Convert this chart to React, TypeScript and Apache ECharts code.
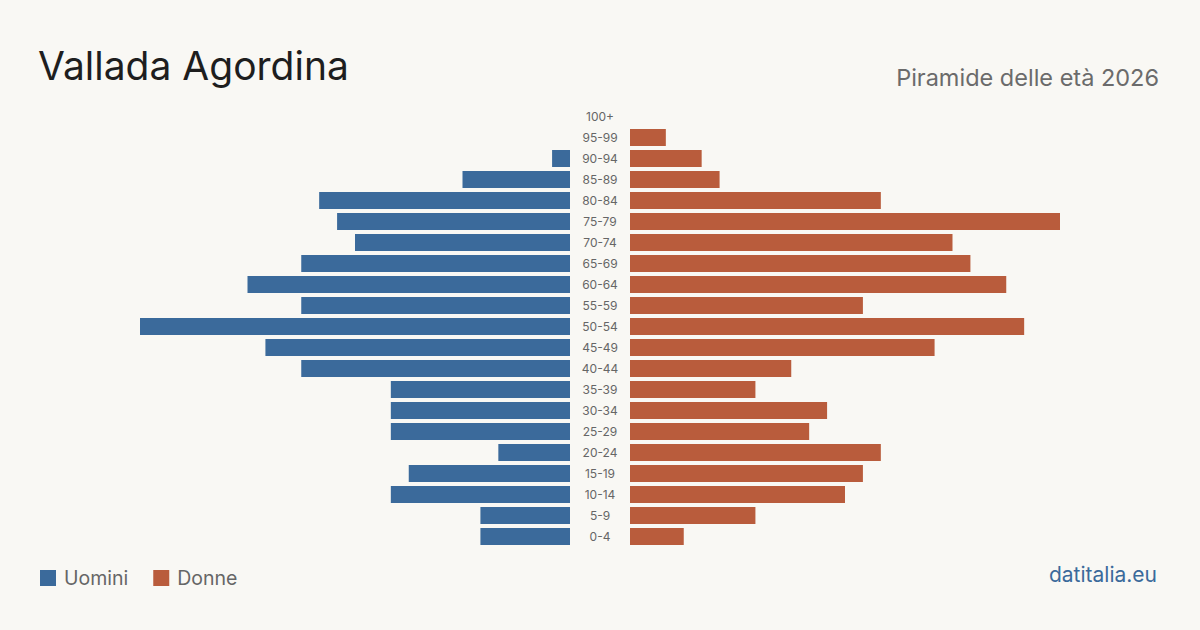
import React, { useEffect, useRef } from "react";
import * as echarts from "echarts";

const categories = ["0-4","5-9","10-14","15-19","20-24","25-29","30-34","35-39","40-44","45-49","50-54","55-59","60-64","65-69","70-74","75-79","80-84","85-89","90-94","95-99","100+"];
const uomini = [5,5,10,9,4,10,10,10,15,17,24,15,18,15,12,13,14,6,1,0,0];
const donne = [3,7,12,13,14,10,11,7,9,17,22,13,21,19,18,24,14,5,4,2,0];
const axisMax = 24;

const BLUE = "#3b6a9b";
const ORANGE = "#b95c3c";
const FONT = "Inter, 'Noto Sans', sans-serif";

export default function App() {
  const ref = useRef<HTMLDivElement>(null);
  useEffect(() => {
    const chart = echarts.init(ref.current!, null, { renderer: "svg" });
    chart.setOption({
      animation: false,
      backgroundColor: "#f9f8f4",
      textStyle: { fontFamily: FONT },
      title: [
        { text: "Vallada Agordina", left: 33, top: 41, textStyle: { fontFamily: FONT, fontSize: 39, fontWeight: "normal", color: "#1e1e1e" } },
        { text: "Piramide delle età 2026", right: 36, top: 60, textStyle: { fontFamily: FONT, fontSize: 23.5, fontWeight: "normal", color: "#6b6b6b" } },
        { text: "datitalia.eu", right: 38, top: 559, textStyle: { fontFamily: FONT, fontSize: 21, fontWeight: "normal", color: "#3b6a9b" } },
      ],
      legend: {
        left: 35, top: 563, icon: "rect", itemWidth: 16, itemHeight: 16, itemGap: 25,
        textStyle: { fontFamily: FONT, fontSize: 19.5, color: "#666", padding: [0, 0, 0, 3] },
        data: ["Uomini", "Donne"],
      },
      grid: [
        { left: 140, width: 430, top: 106, height: 441 },
        { left: 630, width: 430, top: 106, height: 441 },
      ],
      xAxis: [
        { gridIndex: 0, type: "value", inverse: true, min: 0, max: axisMax, show: false },
        { gridIndex: 1, type: "value", min: 0, max: axisMax, show: false },
      ],
      yAxis: [
        { gridIndex: 0, type: "category", data: categories, show: false },
        {
          gridIndex: 1, type: "category", data: categories,
          axisLine: { show: false }, axisTick: { show: false }, splitLine: { show: false },
          axisLabel: { margin: 30, align: "center", fontSize: 12, color: "#666", fontFamily: FONT },
        },
      ],
      series: [
        { name: "Uomini", type: "bar", xAxisIndex: 0, yAxisIndex: 0, data: uomini, barWidth: 17, itemStyle: { color: BLUE } },
        { name: "Donne", type: "bar", xAxisIndex: 1, yAxisIndex: 1, data: donne, barWidth: 17, itemStyle: { color: ORANGE } },
      ],
    });
    return () => chart.dispose();
  }, []);
  return <div ref={ref} style={{ width: 1200, height: 630, position: "absolute", left: 0, top: 0 }} />;
}
